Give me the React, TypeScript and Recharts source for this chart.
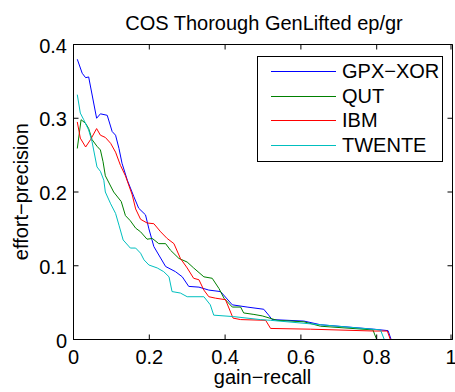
import React from 'react';
import { LineChart, Line, XAxis, YAxis, ReferenceArea } from 'recharts';

// recall (x) / precision (y)
const gpxRecall = [0.01, 0.023, 0.032, 0.04, 0.061, 0.071, 0.089, 0.102, 0.111, 0.12, 0.128, 0.142, 0.159, 0.172, 0.19, 0.199, 0.212, 0.243, 0.269, 0.287, 0.304, 0.331, 0.357, 0.388, 0.419, 0.458, 0.502, 0.515, 0.524, 0.608, 0.652, 0.792, 0.83, 0.838, 1];
const gpxPrec = [0.38, 0.361, 0.355, 0.356, 0.3, 0.306, 0.304, 0.282, 0.277, 0.259, 0.239, 0.216, 0.194, 0.178, 0.169, 0.15, 0.126, 0.099, 0.092, 0.085, 0.072, 0.071, 0.067, 0.065, 0.047, 0.044, 0.041, 0.033, 0.027, 0.025, 0.02, 0.014, 0.012, 0, 0];

const qutRecall = [0.01, 0.02, 0.032, 0.04, 0.049, 0.062, 0.071, 0.078, 0.084, 0.106, 0.126, 0.137, 0.15, 0.164, 0.177, 0.194, 0.208, 0.225, 0.243, 0.256, 0.278, 0.3, 0.317, 0.344, 0.366, 0.384, 0.397, 0.419, 0.441, 0.449, 0.476, 0.498, 0.537, 0.608, 0.652, 0.79, 0.8, 1];
const qutPrec = [0.259, 0.298, 0.293, 0.286, 0.271, 0.262, 0.257, 0.241, 0.222, 0.2, 0.187, 0.168, 0.161, 0.151, 0.146, 0.136, 0.137, 0.13, 0.13, 0.121, 0.11, 0.105, 0.097, 0.085, 0.083, 0.069, 0.056, 0.044, 0.044, 0.036, 0.034, 0.032, 0.026, 0.024, 0.018, 0.013, 0, 0];

const ibmRecall = [0.01, 0.018, 0.032, 0.045, 0.061, 0.071, 0.084, 0.098, 0.111, 0.124, 0.137, 0.155, 0.164, 0.177, 0.194, 0.212, 0.23, 0.247, 0.265, 0.282, 0.3, 0.317, 0.331, 0.344, 0.357, 0.375, 0.401, 0.421, 0.441, 0.507, 0.52, 0.625, 0.792, 0.828, 0.836, 1];
const ibmPrec = [0.295, 0.273, 0.261, 0.271, 0.286, 0.277, 0.274, 0.266, 0.254, 0.236, 0.222, 0.196, 0.177, 0.163, 0.158, 0.157, 0.146, 0.137, 0.13, 0.11, 0.097, 0.083, 0.081, 0.067, 0.058, 0.056, 0.054, 0.029, 0.027, 0.026, 0.015, 0.014, 0.0115, 0.0115, 0, 0];

const twenteRecall = [0.01, 0.018, 0.027, 0.04, 0.049, 0.062, 0.071, 0.08, 0.084, 0.098, 0.111, 0.12, 0.131, 0.15, 0.164, 0.177, 0.186, 0.199, 0.221, 0.238, 0.252, 0.26, 0.282, 0.3, 0.344, 0.361, 0.37, 0.423, 0.493, 0.52, 0.652, 0.81, 0.82, 1];
const twentePrec = [0.332, 0.307, 0.298, 0.284, 0.268, 0.234, 0.228, 0.216, 0.2, 0.184, 0.171, 0.155, 0.135, 0.124, 0.124, 0.117, 0.108, 0.101, 0.097, 0.092, 0.085, 0.065, 0.063, 0.058, 0.058, 0.047, 0.033, 0.031, 0.027, 0.026, 0.02, 0.013, 0, 0];

const xTicks = [0, 0.2, 0.4, 0.6, 0.8, 1];
const yTicks = [0, 0.1, 0.2, 0.3, 0.4];

const toPoints = (rs: number[], ps: number[]) => rs.map((r, i) => ({ r, p: ps[i] }));

const series = [
  { name: 'GPX\u2212XOR', color: '#0000FF', data: toPoints(gpxRecall, gpxPrec) },
  { name: 'QUT', color: '#008000', data: toPoints(qutRecall, qutPrec) },
  { name: 'IBM', color: '#FF0000', data: toPoints(ibmRecall, ibmPrec) },
  { name: 'TWENTE', color: '#00BFBF', data: toPoints(twenteRecall, twentePrec) },
];

const FONT = '"Liberation Sans", Arial, Helvetica, sans-serif';
const PLOT_W = 379;
const PLOT_H = 295;
const TICK = 5;

const XTick = (props: any) => {
  const { x, y, payload } = props;
  return (
    <g>
      <line x1={x} x2={x} y1={y} y2={y - TICK} stroke="#000" />
      <line x1={x} x2={x} y1={y - PLOT_H} y2={y - PLOT_H + TICK} stroke="#000" />
      <text x={x} y={y + 24.5} textAnchor="middle" fontSize={20} fontFamily={FONT} fill="#000">
        {String(payload.value)}
      </text>
    </g>
  );
};

const YTick = (props: any) => {
  const { x, y, payload } = props;
  return (
    <g>
      <line x1={x} x2={x + TICK} y1={y} y2={y} stroke="#000" />
      <line x1={x + PLOT_W} x2={x + PLOT_W - TICK} y1={y} y2={y} stroke="#000" />
      <text x={x - 6.5} y={y + 8} textAnchor="end" fontSize={20} fontFamily={FONT} fill="#000">
        {String(payload.value)}
      </text>
    </g>
  );
};

const App: React.FC = () => {
  return (
    <div style={{ position: 'absolute', left: 0, top: 0, width: 455, height: 392, background: '#fff' }}>
      <LineChart width={455} height={392} margin={{ top: 44.5, right: 2.5, bottom: 0, left: 0 }}>
        <XAxis
          type="number"
          dataKey="r"
          domain={[0, 1]}
          ticks={xTicks}
          height={52.5}
          tickSize={0}
          tickMargin={0}
          tickLine={false}
          axisLine={{ stroke: '#000' }}
          tick={<XTick />}
          allowDuplicatedCategory={false}
        />
        <YAxis
          type="number"
          dataKey="p"
          domain={[0, 0.4]}
          ticks={yTicks}
          width={73.5}
          tickSize={0}
          tickMargin={0}
          tickLine={false}
          axisLine={{ stroke: '#000' }}
          tick={<YTick />}
        />
        {series.map(s => (
          <Line
            key={s.name}
            data={s.data}
            dataKey="p"
            name={s.name}
            type="linear"
            stroke={s.color}
            strokeWidth={1}
            dot={false}
            activeDot={false}
            isAnimationActive={false}
          />
        ))}
        <ReferenceArea x1={0} x2={1} y1={0} y2={0.4} fill="none" stroke="#000" strokeWidth={1} ifOverflow="visible" />
      </LineChart>

      <svg width={455} height={392} style={{ position: 'absolute', left: 0, top: 0, pointerEvents: 'none' }}>
        <text x={264} y={30} textAnchor="middle" fontSize={20} fontFamily={FONT} fill="#000">
          COS Thorough GenLifted ep/gr
        </text>
        <text x={262.5} y={384} textAnchor="middle" fontSize={20} fontFamily={FONT} fill="#000">
          gain{'\u2212'}recall
        </text>
        <text transform="translate(28,191.7) rotate(-90)" textAnchor="middle" fontSize={20} fontFamily={FONT} fill="#000">
          effort{'\u2212'}precision
        </text>
      </svg>

      <div
        style={{
          position: 'absolute',
          left: 257,
          top: 56,
          width: 184,
          height: 104,
          border: '1px solid #000',
          background: '#fff',
          fontFamily: FONT,
          fontSize: 20,
        }}
      >
        {series.map((s, i) => (
          <div key={s.name} style={{ position: 'absolute', left: 0, top: 2 + i * 24.7, height: 24, width: 184 }}>
            <div style={{ position: 'absolute', left: 13, top: 12, width: 65, height: 1, background: s.color }} />
            <div style={{ position: 'absolute', left: 84, top: 0, lineHeight: '24px', color: '#000' }}>{s.name}</div>
          </div>
        ))}
      </div>
    </div>
  );
};

export default App;
